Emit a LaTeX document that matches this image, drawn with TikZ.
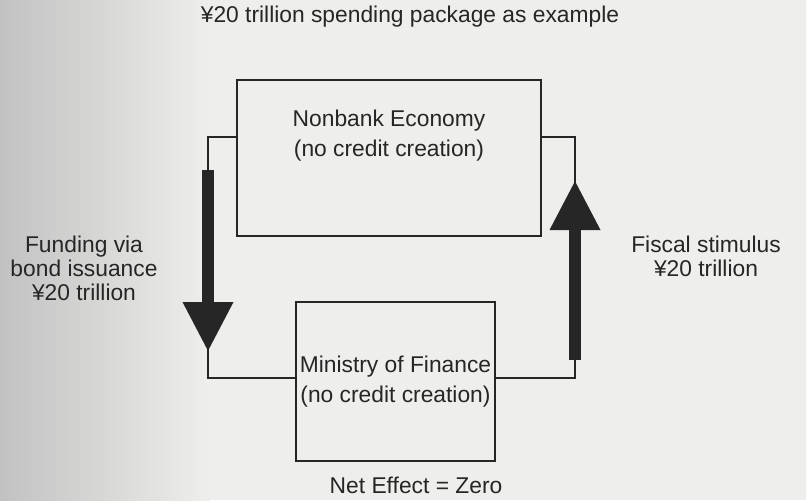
\documentclass[tikz,border=0pt]{standalone}
\usepackage{fontspec}
\setmainfont{Liberation Sans}
\usetikzlibrary{arrows.meta,positioning}
\definecolor{inkgray}{RGB}{38,38,38}
\definecolor{paper}{RGB}{238,238,236}
\tikzset{
    sector/.style={
        rectangle,
        draw=inkgray,
        line width=1pt,
        inner sep=0pt
    },
    link/.style={
        draw=inkgray,
        line width=0.8pt
    },
    flow/.style={
        draw=inkgray,
        line width=6.3pt,
        -{Triangle[width=23.5pt,length=25pt,fill=inkgray]}
    },
    caption/.style={
        align=center,
        text=inkgray,
        inner sep=0pt,
        font=\fontsize{11.4}{12}\selectfont
    },
    boxtext/.style={
        caption,
        font=\fontsize{11.4}{15}\selectfont
    }
}

\begin{document}
\begin{tikzpicture}[x=0.5pt,y=-0.5pt]
    % page
    \fill[paper] (0,0) rectangle (806,500);
    \shade[left color=black!24, right color=paper] (0,0) rectangle (210,500);
    \useasboundingbox (0,0) rectangle (806,500);

    % title
    \node[caption] (title) at (410,17) {¥20 trillion spending package as example};

    % the two sectors
    \node[sector, minimum width=152pt, minimum height=78pt] (nonbank) at (389,158) {};
    \node[boxtext] (nonbanktxt) at (389,136) {Nonbank Economy\\(no credit creation)};
    \node[sector, minimum width=99.5pt, minimum height=79.5pt] (mof) at (395.5,381.5) {};
    \node[boxtext] (moftxt) at (395.5,381.5) {Ministry of Finance\\(no credit creation)};

    % thick flows
    \coordinate (fundtop) at (208,170);
    \coordinate (fundtip) at (208,352);
    \coordinate (stimbot) at (575,360);
    \coordinate (stimtip) at (575,180);

    % connectors
    \draw[link] ([yshift=10.5pt]nonbank.west) -| (fundtip) |- ([yshift=1.7pt]mof.west);
    \draw[link] ([yshift=10.5pt]nonbank.east) -| (stimtip) |- ([yshift=1.7pt]mof.east);
    \draw[flow] (fundtop) -- (fundtip);
    \draw[flow] (stimbot) -- (stimtip);

    % labels
    \node[caption] (fundlbl) at (84,268) {Funding via\\bond issuance\\¥20 trillion};
    \node[caption] (stimlbl) at (706,256) {Fiscal stimulus\\¥20 trillion};
    \node[caption] (net) at (416,485) {Net Effect = Zero};
\end{tikzpicture}
\end{document}
